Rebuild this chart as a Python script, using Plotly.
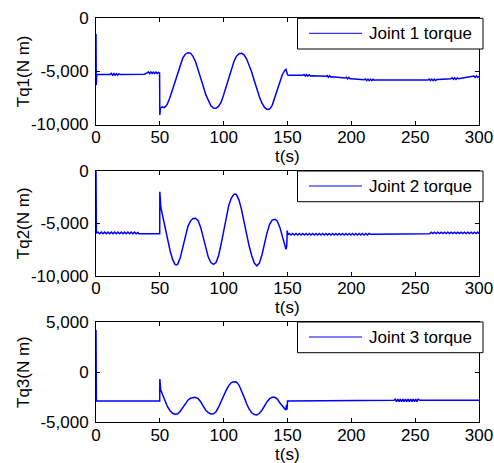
import plotly.graph_objects as go

# ---------------- data ----------------
t1 = [0, 0.2, 0.6, 11, 12, 13, 14, 15, 16, 17, 18, 19, 38, 40, 41, 42, 43, 44, 45, 46, 47, 48, 49, 49.8,
      50, 50.5, 52, 53.5, 55, 56, 58, 60, 62, 64, 66, 68, 70, 72, 74, 76, 78, 80, 82, 84, 86, 88, 90, 92, 94,
      96, 98, 100, 102, 104, 106, 108, 110, 112, 114, 116, 118, 120, 122, 124, 126, 128, 130, 132, 134, 136,
      138, 140, 142, 144, 146, 148, 148.8, 150, 150.5,
      162, 163, 164, 165, 166, 167, 168, 169, 180, 181, 182, 183, 184, 185, 195, 196, 197, 198, 199, 200,
      210, 211, 212, 213, 214, 215, 216, 217, 218, 219, 260, 261, 262, 263, 264, 265, 266, 267, 268,
      278, 279, 280, 281, 282, 283, 284, 285, 295, 296, 297, 298, 299, 300]
tq1 = [-1500, -6300, -5300, -5300, -5200, -5380, -5220, -5380, -5220, -5360, -5250, -5300, -5280, -5150,
       -5070, -5220, -5070, -5220, -5080, -5220, -5080, -5200, -5100, -5150,
       -9100, -8450, -8350, -8420, -8250, -8050, -7450, -6700, -5900, -5050, -4300, -3750, -3400, -3260,
       -3300, -3600, -4100, -4800, -5600, -6400, -7200, -7800, -8250, -8450, -8480, -8300, -7900, -7200,
       -6400, -5600, -4800, -4100, -3600, -3350, -3320, -3450, -3850, -4400, -5100, -5900, -6700, -7400,
       -8000, -8400, -8580, -8550, -8200, -7500, -6700, -5900, -5300, -4900, -4820, -5320, -5380,
       -5380, -5300, -5450, -5320, -5460, -5330, -5440, -5420, -5480, -5400, -5560, -5420, -5560, -5520,
       -5640, -5560, -5720, -5580, -5700, -5700, -5800, -5720, -5880, -5740, -5880, -5740, -5880, -5760,
       -5840, -5830, -5830, -5740, -5880, -5740, -5880, -5740, -5870, -5780, -5780,
       -5700, -5620, -5760, -5620, -5760, -5630, -5700, -5680, -5520, -5440, -5580, -5440, -5560, -5480]

t2 = [0, 0.3, 1.6, 2.9, 4.2, 5.5, 6.8, 8.1, 9.4, 10.7, 12.0, 13.3, 14.6, 15.9, 17.2, 18.5, 19.8, 21.1,
      22.4, 23.7, 25.0, 26.3, 27.6, 28.9, 30.2, 31.5, 32.8, 33.5, 49.9,
      50, 50.8, 52, 54, 56, 58, 60, 62, 63, 64, 66, 68, 70, 72, 74, 76, 78, 80, 82, 84, 86, 88, 90, 92, 94,
      96, 98, 100, 102, 104, 106, 108, 109, 110, 112, 114, 116, 118, 120, 122, 124, 126, 128, 130, 132,
      134, 136, 138, 140.5, 142, 144, 146, 148, 148.8, 149.4, 149.8, 150.3,
      151.5, 152.8, 154.1, 155.4, 156.7, 158.0, 159.3, 160.6, 161.9, 163.2, 164.5, 165.8, 167.1, 168.4,
      169.7, 171.0, 172.3, 173.6, 174.9, 176.2, 177.5, 178.8, 180.1, 181.4, 182.7, 184.0, 185.3, 186.6,
      187.9, 189.2, 190.5, 191.8, 193.1, 194.4, 195.7, 197.0, 198.3, 199.6, 200.9, 202.2, 203.5, 204.8,
      206.1, 207.4, 208.7, 210.0, 211.3, 212.6, 213.9, 215.0, 260.0,
      261.3, 262.6, 263.9, 265.2, 266.5, 267.8, 269.1, 270.4, 271.7, 273.0, 274.3, 275.6, 276.9, 278.2,
      279.5, 280.8, 282.1, 283.4, 284.7, 286.0, 287.3, 288.6, 289.9, 291.2, 292.5, 293.8, 295.1, 296.4,
      297.7, 299.0, 300]
tq2 = [0, -5950, -5850, -6000, -5850, -6000, -5850, -6000, -5850, -6000, -5850, -6000, -5850, -6000,
       -5850, -6000, -5850, -6000, -5850, -6000, -5850, -6000, -5850, -6000, -5850, -6000, -5880,
       -6000, -6000,
       -2000, -3500, -4200, -5300, -6500, -7600, -8450, -8950, -8980, -8900, -8300, -7300, -6200, -5300,
       -4800, -4550, -4530, -4750, -5400, -6400, -7400, -8250, -8750, -8910, -8750, -8100, -7000, -5700,
       -4400, -3300, -2600, -2250, -2220, -2280, -2800, -3700, -4900, -6100, -7200, -8100, -8800, -9070,
       -8800, -8000, -6900, -5900, -5100, -4700, -4630, -4800, -5400, -6300, -7100, -7480, -7200, -5700,
       -6100,
       -5980, -6120, -5980, -6120, -5980, -6120, -5980, -6120, -5980, -6120, -5980, -6120, -5980, -6120,
       -5980, -6120, -5980, -6120, -5980, -6120, -5980, -6120, -5980, -6120, -5980, -6120, -5980, -6120,
       -5980, -6120, -5980, -6120, -5980, -6120, -5980, -6120, -5980, -6120, -5980, -6120, -5980, -6120,
       -5980, -6120, -5980, -6120, -5980, -6120, -5980, -6050, -6020, -6000,
       -5850, -5980, -5850, -5980, -5850, -5980, -5850, -5980, -5850, -5980, -5850, -5980, -5850, -5980,
       -5850, -5980, -5850, -5980, -5850, -5980, -5850, -5980, -5850, -5980, -5850, -5980, -5850, -5980,
       -5850, -5980, -5900]

t3 = [0, 0.3, 49.9, 50, 50.7, 52, 54, 56, 58, 60, 62, 63, 64, 66, 68, 70, 72, 74, 77.5, 80, 82, 84, 86,
      88, 90, 92, 94, 96, 98, 100, 102, 104, 106, 108, 109, 110, 112, 114, 116, 118, 120, 122, 124, 126,
      128, 130, 132, 134, 136, 138, 140, 142, 144, 146, 148, 148.6, 149.2, 149.6, 150, 233.4,
      234.4, 235.4, 236.4, 237.4, 238.4, 239.4, 240.4, 241.4, 242.4, 243.4, 244.4, 245.4, 246.4, 247.4,
      248.4, 249.4, 250.4, 251.4, 252.4, 253.7, 300]
tq3 = [4170, -2880, -2880, -700, -1790, -2200, -2900, -3450, -3850, -4100, -4200, -4200, -4150, -3900,
       -3500, -3100, -2800, -2600, -2520, -2650, -2950, -3400, -3800, -4050, -4170, -4150, -3950, -3500,
       -2900, -2300, -1800, -1350, -1050, -970, -960, -1000, -1300, -1850, -2500, -3150, -3700, -4050,
       -4230, -4270, -4100, -3800, -3350, -2950, -2650, -2520, -2520, -2700, -3050, -3400, -3650, -3780,
       -3300, -3750, -2880, -2820,
       -2700, -2950, -2700, -2950, -2700, -2950, -2700, -2950, -2700, -2950, -2700, -2950, -2700, -2950,
       -2700, -2950, -2700, -2950, -2700, -2820, -2820]

series = [(t1, tq1), (t2, tq2), (t3, tq3)]
legend_names = ["Joint 1 torque", "Joint 2 torque", "Joint 3 torque"]
y_titles = ["Tq1(N m)", "Tq2(N m)", "Tq3(N m)"]
x_tickvals = [0, 50, 100, 150, 200, 250, 300]
x_ticktext = ["0", "50", "100", "150", "200", "250", "300"]
y_ranges = [[-10000, 0], [-10000, 0], [-5000, 5000]]
y_tickvals = [[-10000, -5000, 0], [-10000, -5000, 0], [-5000, 0, 5000]]
y_ticktext = [["-10,000", "-5,000", "0"], ["-10,000", "-5,000", "0"], ["-5,000", "0", "5,000"]]

# ---------------- layout (pixel geometry) ----------------
W, H = 494, 463
FONT = "Liberation Sans, Arial, sans-serif"
BLUE = "#0000ff"
px_left, px_right = 96, 479
panels_px = [(18, 124.5), (170.7, 275.7), (321.7, 422.3)]  # (top, bottom)


def px(x):
    return x / W


def py(y):
    return 1 - y / H


fig = go.Figure()
shapes = []
annotations = []
for i, ((tt, vv), (top, bot)) in enumerate(zip(series, panels_px)):
    n = i + 1
    xa = "x" if n == 1 else f"x{n}"
    ya = "y" if n == 1 else f"y{n}"
    fig.add_trace(go.Scatter(x=tt, y=vv, mode="lines", name=legend_names[i],
                             line=dict(color=BLUE, width=1.5), xaxis=xa, yaxis=ya,
                             showlegend=False))
    axis_common = dict(showline=True, linecolor="black", linewidth=1, mirror="allticks",
                       ticks="inside", ticklen=4, tickcolor="black", tickwidth=1,
                       showgrid=False, zeroline=False, automargin=False,
                       tickfont=dict(family=FONT, size=17, color="black"))
    fig.update_layout(**{
        ("xaxis" if n == 1 else f"xaxis{n}"): dict(
            domain=[px(px_left), px(px_right)], anchor=ya, range=[0, 300],
            tickmode="array", tickvals=x_tickvals, ticktext=x_ticktext,
            ticklabelstandoff=-3, **axis_common),
        ("yaxis" if n == 1 else f"yaxis{n}"): dict(
            domain=[py(bot), py(top)], anchor=xa, range=y_ranges[i],
            tickmode="array", tickvals=y_tickvals[i], ticktext=y_ticktext[i],
            ticklabelstandoff=3, **axis_common),
    })
    annotations.append(dict(text="t(s)", xref="paper", yref="paper",
                            x=px((px_left + px_right) / 2), y=py(bot + 32),
                            xanchor="center", yanchor="middle", showarrow=False,
                            borderpad=0,
                            font=dict(family=FONT, size=17, color="black")))
    annotations.append(dict(text=y_titles[i], xref="paper", yref="paper",
                            x=px(23), y=py((top + bot) / 2), textangle=-90,
                            xanchor="center", yanchor="middle", showarrow=False,
                            font=dict(family=FONT, size=17, color="black")))
    shapes.append(dict(type="rect", xref="paper", yref="paper",
                       x0=px(297.5), x1=px(483), y0=py(top + 31), y1=py(top + 0.3),
                       fillcolor="white", line=dict(color="black", width=1), layer="above"))
    shapes.append(dict(type="line", xref="paper", yref="paper",
                       x0=px(309), x1=px(362), y0=py(top + 15.3), y1=py(top + 15.3),
                       line=dict(color=BLUE, width=1), layer="above"))
    annotations.append(dict(text=legend_names[i], xref="paper", yref="paper",
                            x=px(367), y=py(top + 15.5), xanchor="left", yanchor="middle",
                            showarrow=False,
                            font=dict(family=FONT, size=17, color="black")))

fig.update_layout(width=W, height=H, margin=dict(l=0, r=0, t=0, b=0, autoexpand=False),
                  paper_bgcolor="white", plot_bgcolor="white",
                  shapes=shapes, annotations=annotations, showlegend=False,
                  font=dict(family=FONT, size=17, color="black"))

fig.write_html("out.html", config={"responsive": False})
